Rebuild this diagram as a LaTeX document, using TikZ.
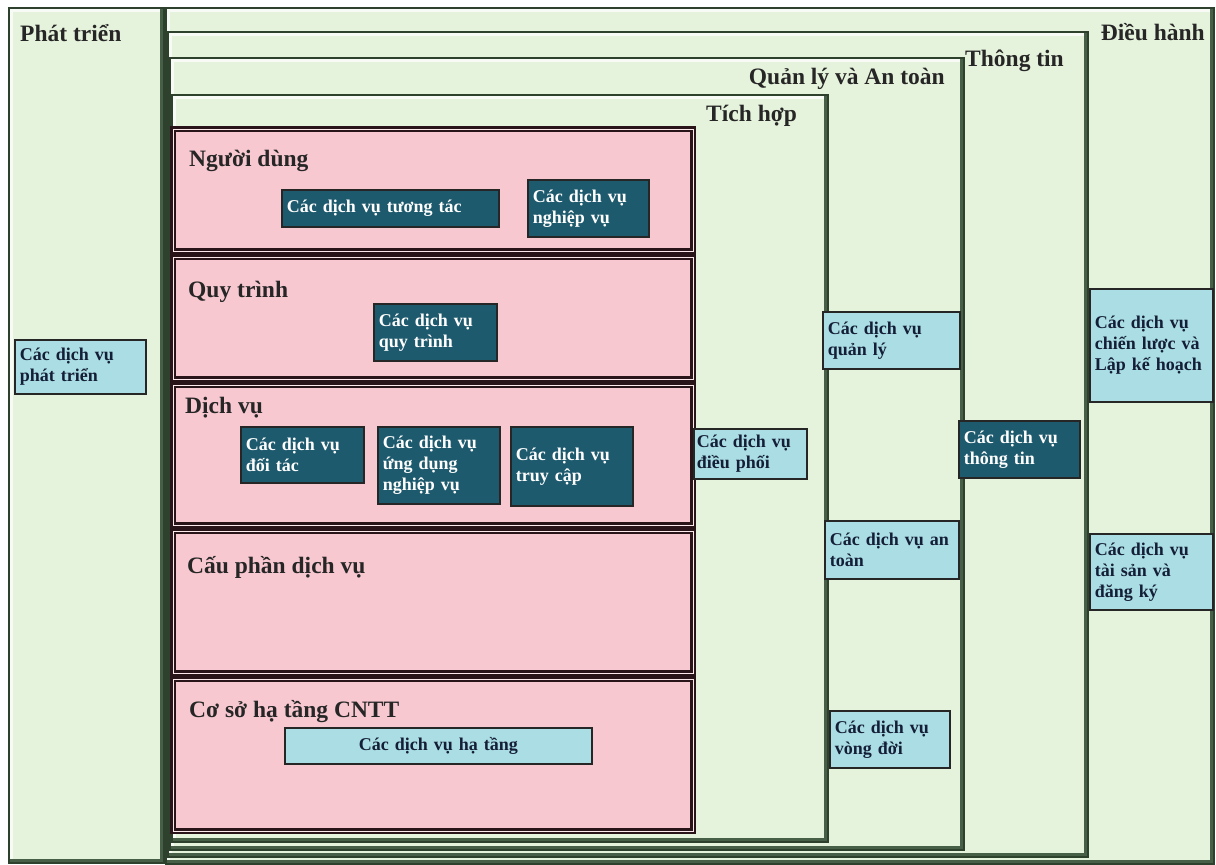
\documentclass[tikz,border=0pt]{standalone}
\usepackage{fontspec}
\setmainfont{Liberation Serif}
\usepackage{xcolor}
\usepackage{tikz}
\usetikzlibrary{positioning}

\definecolor{panelfill}{RGB}{230,243,220}
\definecolor{panelline}{RGB}{45,65,45}
\definecolor{panelshade}{RGB}{70,95,70}
\definecolor{layerfill}{RGB}{248,200,208}
\definecolor{layerline}{RGB}{40,20,25}
\definecolor{darkbox}{RGB}{30,90,110}
\definecolor{lightbox}{RGB}{170,222,228}
\definecolor{lighttext}{RGB}{20,30,55}

\begin{document}
\begin{tikzpicture}[
  x=1pt, y=-1pt,
  panel/.style={draw=panelline, line width=1.6pt, fill=panelfill, anchor=north west,
                inner sep=0pt,
                path picture={
                  \draw[white!70!panelfill, line width=9pt]
                    (path picture bounding box.south west) |- (path picture bounding box.north east);
                  \draw[panelshade, line width=7pt]
                    (path picture bounding box.south west) -| (path picture bounding box.north east);}},
  layer/.style={draw=layerline, line width=2.4pt, double=white!60!layerfill, double distance=1.2pt,
                fill=layerfill, anchor=north west, inner sep=0pt,
                path picture={
                  \draw[layerline!70!layerfill, line width=4pt]
                    (path picture bounding box.south west) -| (path picture bounding box.north east);}},
  title/.style={font=\fontsize{23.5}{26}\selectfont\bfseries, text=black!85, inner sep=0pt},
  svcbox/.style={draw=black!85, line width=1.6pt, anchor=north west, align=left,
                 inner xsep=5pt, inner ysep=2pt, font=\fontsize{18}{21}\selectfont\bfseries},
  dark/.style={svcbox, fill=darkbox, text=white},
  light/.style={svcbox, fill=lightbox, text=lighttext}
]
\useasboundingbox (0,0) rectangle (1216,865);

% nested panels
\node[panel, minimum width=1048pt, minimum height=856pt] (dieuhanh) at (165,7) {};
\node[panel, minimum width=920pt, minimum height=825pt] (thongtin) at (167,31) {};
\node[panel, minimum width=794pt, minimum height=792pt] (quanly) at (169,57) {};
\node[panel, minimum width=656pt, minimum height=747pt] (tichhop) at (171,94) {};
\node[panel, minimum width=155pt, minimum height=855pt] (phattrien) at (8,7) {};

% layers
\node[layer, minimum width=520pt, minimum height=122pt] (nguoidung) at (172,128) {};
\node[layer, minimum width=520pt, minimum height=122pt] (quytrinh) at (172,256) {};
\node[layer, minimum width=520pt, minimum height=140pt] (dichvu) at (172,384) {};
\node[layer, minimum width=520pt, minimum height=142pt] (cauphan) at (172,530) {};
\node[layer, minimum width=520pt, minimum height=152pt] (hatangL) at (172,678) {};

% titles
\node[title, anchor=base west] (phattrienT) at (20,41) {Phát triển};
\node[title, anchor=base east] (dieuhanhT) at (1205,40) {Điều hành};
\node[title, anchor=base west] (thongtinT) at (965,66) {Thông tin};
\node[title, anchor=base east] (quanlyT) at (945,84) {Quản lý và An toàn};
\node[title, anchor=base west] (tichhopT) at (706,121) {Tích hợp};
\node[title, anchor=base west] (nguoidungT) at (189,166) {Người dùng};
\node[title, anchor=base west] (quytrinhT) at (188,297) {Quy trình};
\node[title, anchor=base west] (dichvuT) at (185,413) {Dịch vụ};
\node[title, anchor=base west] (cauphanT) at (187,573) {Cấu phần dịch vụ};
\node[title, anchor=base west] (hatangT) at (189,717) {Cơ sở hạ tầng CNTT};

% services
\node[dark, minimum width=217pt, minimum height=37pt, text width=207pt] (dvTuongTac) at (281,189) {Các dịch vụ tương tác};
\node[dark, minimum width=121pt, minimum height=57pt, text width=111pt] (dvNghiepVu) at (527,179) {Các dịch vụ\\nghiệp vụ};
\node[dark, minimum width=123pt, minimum height=57pt, text width=113pt] (dvQuyTrinh) at (373,303) {Các dịch vụ\\quy trình};
\node[dark, minimum width=123pt, minimum height=56pt, text width=113pt] (dvDoiTac) at (240,426) {Các dịch vụ\\đối tác};
\node[dark, minimum width=122pt, minimum height=77pt, text width=112pt] (dvUngDung) at (377,426) {Các dịch vụ\\ứng dụng\\nghiệp vụ};
\node[dark, minimum width=122pt, minimum height=79pt, text width=112pt] (dvTruyCap) at (510,426) {Các dịch vụ\\truy cập};
\node[light, minimum width=307pt, minimum height=36pt, text width=297pt, align=center] (dvHaTang) at (284,727) {Các dịch vụ hạ tầng};
\node[light, minimum width=113pt, minimum height=50pt, text width=107pt, inner xsep=3pt] (dvDieuPhoi) at (693,428) {Các dịch vụ\\điều phối};
\node[light, minimum width=137pt, minimum height=57pt, text width=127pt] (dvQuanLy) at (822,311) {Các dịch vụ\\quản lý};
\node[light, minimum width=134pt, minimum height=58pt, text width=124pt] (dvAnToan) at (824,520) {Các dịch vụ an\\toàn};
\node[light, minimum width=120pt, minimum height=57pt, text width=110pt] (dvVongDoi) at (829,710) {Các dịch vụ\\vòng đời};
\node[dark, minimum width=121pt, minimum height=57pt, text width=111pt] (dvThongTin) at (958,420) {Các dịch vụ\\thông tin};
\node[light, minimum width=123pt, minimum height=113pt, text width=113pt] (dvChienLuoc) at (1089,288) {Các dịch vụ\\chiến lược và\\Lập kế hoạch};
\node[light, minimum width=123pt, minimum height=76pt, text width=113pt] (dvTaiSan) at (1089,533) {Các dịch vụ\\tài sản và\\đăng ký};
\node[light, minimum width=131pt, minimum height=54pt, text width=121pt] (dvPhatTrien) at (14,339) {Các dịch vụ\\phát triển};
\end{tikzpicture}
\end{document}
